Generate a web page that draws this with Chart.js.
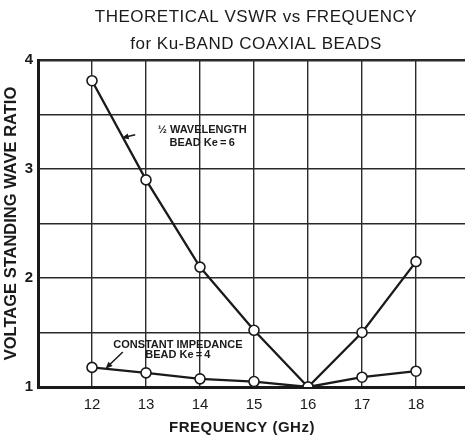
<!DOCTYPE html>
<html>
<head>
<meta charset="utf-8">
<script src="https://cdn.jsdelivr.net/npm/chart.js@4/dist/chart.umd.min.js"></script>
<style>
  html, body { margin: 0; padding: 0; background: #ffffff; }
  #wrap { width: 465px; height: 435px; position: relative; }
</style>
</head>
<body>
<div id="wrap"><canvas id="c" width="465" height="435"></canvas></div>
<script>
// ---- data ----
const frequencies = [12, 13, 14, 15, 16, 17, 18];
const halfWavelengthVSWR = [3.81, 2.90, 2.10, 1.52, 1.00, 1.50, 2.15];
const constantImpedanceVSWR = [1.18, 1.13, 1.075, 1.05, 1.00, 1.09, 1.145];
const xTickValues = [11, 12, 13, 14, 15, 16, 17, 18];
const yTickValues = [1, 1.5, 2, 2.5, 3, 3.5, 4];
const titleLines = ['THEORETICAL VSWR vs FREQUENCY', 'for Ku-BAND COAXIAL BEADS'];
const xTitle = 'FREQUENCY (GHz)';
const yTitle = 'VOLTAGE STANDING WAVE RATIO';
const halfLabel = ['\u00BD WAVELENGTH', 'BEAD Ke\u2009=\u20096'];
const constLabel = ['CONSTANT IMPEDANCE', 'BEAD Ke\u2009=\u20094'];

const X_MIN = 11, X_MAX = 18.907;
const INK = '#1a1a1a';
const FONT = "'Liberation Sans', Arial, sans-serif";

function arrow(ctx, x1, y1, x2, y2) {
  const ang = Math.atan2(y2 - y1, x2 - x1);
  const hl = 7, hw = 3;
  ctx.beginPath();
  ctx.moveTo(x1, y1);
  ctx.lineTo(x2 - Math.cos(ang) * hl * 0.6, y2 - Math.sin(ang) * hl * 0.6);
  ctx.stroke();
  ctx.beginPath();
  ctx.moveTo(x2, y2);
  ctx.lineTo(x2 - Math.cos(ang) * hl + Math.sin(ang) * hw, y2 - Math.sin(ang) * hl - Math.cos(ang) * hw);
  ctx.lineTo(x2 - Math.cos(ang) * hl - Math.sin(ang) * hw, y2 - Math.sin(ang) * hl + Math.cos(ang) * hw);
  ctx.closePath();
  ctx.fill();
}

const textPlugin = {
  id: 'texts',
  afterDraw(chart) {
    const ctx = chart.ctx;
    const xs = chart.scales.x, ys = chart.scales.y;
    ctx.save();
    ctx.fillStyle = INK;
    ctx.strokeStyle = INK;
    ctx.textAlign = 'center';
    ctx.textBaseline = 'middle';
    // title
    ctx.font = '17px ' + FONT;
    try { ctx.letterSpacing = '0.5px'; } catch (e) {}
    ctx.fillText(titleLines[0], 256, 17);
    ctx.fillText(titleLines[1], 256, 44);
    // x title
    ctx.font = 'bold 15px ' + FONT;
    ctx.fillText(xTitle, 242, 428);
    try { ctx.letterSpacing = '0px'; } catch (e) {}
    // annotations
    ctx.font = 'bold 11px ' + FONT;
    const hx = xs.getPixelForValue(14.04);
    ctx.fillText(halfLabel[0], hx, ys.getPixelForValue(3.358));
    ctx.fillText(halfLabel[1], hx, ys.getPixelForValue(3.239));
    const cx = xs.getPixelForValue(13.59);
    ctx.fillText(constLabel[0], cx, ys.getPixelForValue(1.390));
    ctx.fillText(constLabel[1], cx, ys.getPixelForValue(1.295));
    ctx.lineWidth = 1.5;
    arrow(ctx, xs.getPixelForValue(12.80), ys.getPixelForValue(3.315),
               xs.getPixelForValue(12.55), ys.getPixelForValue(3.284));
    arrow(ctx, xs.getPixelForValue(12.57), ys.getPixelForValue(1.321),
               xs.getPixelForValue(12.25), ys.getPixelForValue(1.168));
    ctx.restore();
  }
};

const bgPlugin = {
  id: 'bg',
  beforeDraw(chart) {
    const ctx = chart.ctx;
    ctx.save();
    ctx.fillStyle = '#ffffff';
    ctx.fillRect(0, 0, chart.width, chart.height);
    ctx.restore();
  }
};

new Chart(document.getElementById('c'), {
  type: 'line',
  data: {
    datasets: [
      {
        label: '1/2 wavelength bead Ke=6',
        data: frequencies.map((f, i) => ({ x: f, y: halfWavelengthVSWR[i] })),
        borderColor: INK, borderWidth: 2.3, tension: 0,
        pointRadius: 5, pointBackgroundColor: '#ffffff', pointBorderColor: INK, pointBorderWidth: 1.6
      },
      {
        label: 'Constant impedance bead Ke=4',
        data: frequencies.map((f, i) => ({ x: f, y: constantImpedanceVSWR[i] })),
        borderColor: INK, borderWidth: 2.3, tension: 0,
        pointRadius: 5, pointBackgroundColor: '#ffffff', pointBorderColor: INK, pointBorderWidth: 1.6
      }
    ]
  },
  options: {
    responsive: false,
    animation: false,
    devicePixelRatio: 1,
    layout: { autoPadding: false, padding: { top: 60, left: 0, right: 0, bottom: 0 } },
    plugins: { legend: { display: false }, tooltip: { enabled: false }, title: { display: false } },
    scales: {
      x: {
        type: 'linear', min: X_MIN, max: X_MAX,
        afterBuildTicks(scale) { scale.ticks = xTickValues.map(v => ({ value: v })); },
        afterFit(scale) { scale.height = 48; },
        grid: { drawTicks: false, lineWidth: 1.4, color: '#2a2a2a' },
        border: { color: INK, width: 3 },
        ticks: {
          padding: 9, color: INK, maxRotation: 0, autoSkip: false,
          font: { family: FONT, size: 15 },
          callback: v => (v === X_MIN ? '' : String(v))
        },
        title: { display: false }
      },
      y: {
        type: 'linear', min: 1, max: 4,
        afterBuildTicks(scale) { scale.ticks = yTickValues.map(v => ({ value: v })); },
        afterFit(scale) { scale.width = 38; },
        grid: {
          color: '#2a2a2a', drawTicks: false,
          lineWidth: c => (c.tick && c.tick.value === 4 ? 2.5 : 1.4)
        },
        border: { color: INK, width: 3 },
        ticks: {
          padding: 5, color: INK, autoSkip: false,
          font: { family: FONT, size: 15, weight: 'bold' },
          callback: v => (Number.isInteger(v) ? String(v) : '')
        },
        title: {
          display: true, text: yTitle, color: INK,
          font: { family: FONT, size: 16.5, weight: 'bold' },
          padding: { top: 2, bottom: 0 }
        }
      }
    }
  },
  plugins: [bgPlugin, textPlugin]
});
</script>
</body>
</html>
